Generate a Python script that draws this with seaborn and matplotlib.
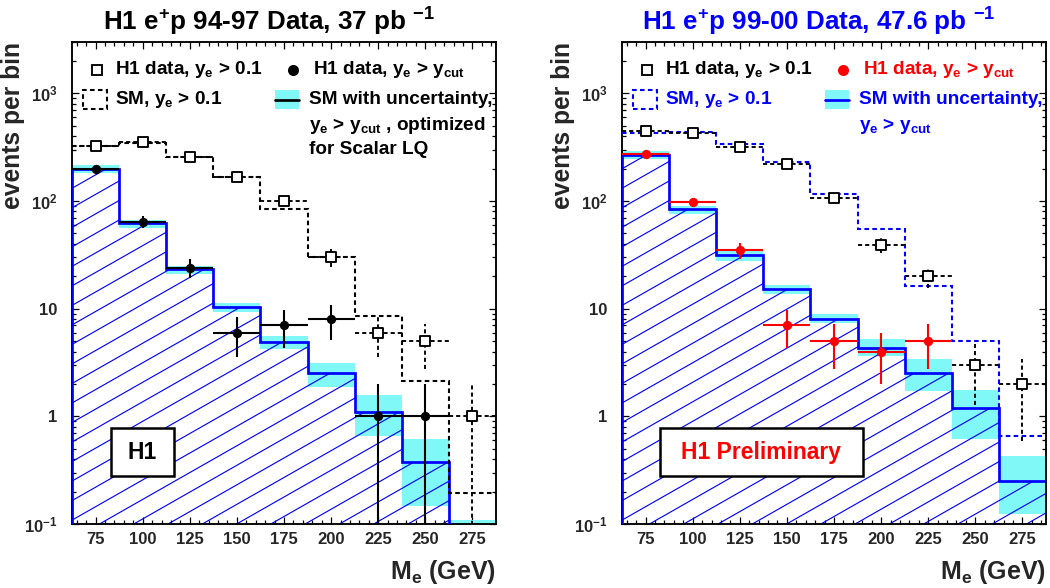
import numpy as np
import matplotlib
matplotlib.use("Agg")
import matplotlib.pyplot as plt
import seaborn as sns
from matplotlib.patches import Rectangle
from matplotlib.ticker import MultipleLocator, LogLocator, FuncFormatter, NullFormatter

# bins in electron-quark mass (GeV)
bin_centres = [75, 100, 125, 150, 175, 200, 225, 250, 275]
bin_edges = [62.5, 87.5, 112.5, 137.5, 162.5, 187.5, 212.5, 237.5, 262.5, 287.5]

# 94-97 data (left)
left_open = [325, 350, 255, 168, 99, 30, 6, 5, 1]
left_sm01 = [326, 345, 257, 168, 84, 30.3, 8.6, 2.13, 0.195]
left_cut = [198, 64, 24, 6, 7, 8, 1, 1]
left_sm = [198, 62, 23.5, 10.4, 4.9, 2.5, 1.1, 0.38, 0.08]
left_sm_lo = [183, 55.6, 21, 9.4, 4.2, 1.86, 0.66, 0.148, 0.05]
left_sm_hi = [214, 66.7, 25, 11.3, 5.6, 3.15, 1.58, 0.61, 0.11]

# 99-00 data (right)
right_open = [450, 430, 318, 219, 107, 39, 20, 3, 2]
right_sm01 = [433, 435, 335, 228, 116, 55, 16.3, 5.0, 0.66]
right_cut = [272, 97, 35, 7, 5, 4, 5]
right_sm = [267, 84, 31.5, 15.1, 8.1, 4.3, 2.5, 1.19, 0.25]
right_sm_lo = [245, 75, 28, 13.8, 7.3, 3.6, 1.73, 0.61, 0.124]
right_sm_hi = [292, 90, 34, 16.5, 8.9, 5.2, 3.4, 1.75, 0.43]

sns.set_theme(style="ticks")
plt.rcParams["font.family"] = ["Liberation Sans", "DejaVu Sans"]
plt.rcParams["font.weight"] = "bold"
plt.rcParams["mathtext.fontset"] = "custom"
plt.rcParams["mathtext.rm"] = "Liberation Sans:bold"
plt.rcParams["mathtext.it"] = "Liberation Sans:bold"
plt.rcParams["mathtext.bf"] = "Liberation Sans:bold"
plt.rcParams["mathtext.default"] = "rm"

CYAN = "#80f8f8"
half = 12.5

fig = plt.figure(figsize=(7, 3.92), dpi=150)
ax1 = fig.add_axes([72 / 1050, 64 / 588, 424 / 1050, 482 / 588])
ax2 = fig.add_axes([622 / 1050, 64 / 588, 424 / 1050, 482 / 588])


def yfmt(v, pos):
    labels = {0.1: "10$^{-1}$", 1: "1", 10: "10", 100: "10$^{2}$", 1000: "10$^{3}$"}
    for k, s in labels.items():
        if abs(v - k) < 1e-6 * k:
            return s
    return ""


def draw_panel(ax, open_vals, sm01, cut_vals, sm, sm_lo, sm_hi, sm01_col, cut_col):
    ax.set_yscale("log")
    ax.set_xlim(62.5, 287.5)
    ax.set_ylim(0.1, 3000)

    # SM band and outline
    ax.stairs(sm_hi, bin_edges, baseline=sm_lo, fill=True, color=CYAN, lw=0, zorder=1)
    clip = ax.stairs(sm, bin_edges, baseline=1e-3, fill=True, facecolor="none",
                     edgecolor="none", lw=0, zorder=0)
    # diagonal hatching of the SM histogram
    for c in np.arange(-0.55, 1.05, 0.0405) + 0.0315:
        ln, = ax.plot([0, 1], [c, c + 0.501], transform=ax.transAxes,
                      color="blue", lw=0.55, zorder=2)
        ln.set_clip_path(clip)
    ax.stairs(sm, bin_edges, baseline=1e-3, color="blue", lw=1.3, zorder=3)

    # SM y_e > 0.1
    ax.stairs(sm01, bin_edges, baseline=None, color=sm01_col, lw=1.0,
              linestyle=(0, (2.2, 1.6)), zorder=4)

    # open squares, y_e > 0.1
    eb = ax.errorbar(bin_centres, open_vals, xerr=half, yerr=np.sqrt(open_vals),
                     fmt="none", ecolor="black", elinewidth=0.9, zorder=5)
    for col in eb[2]:
        col.set_linestyle((0, (2.2, 1.6)))
    sns.scatterplot(x=bin_centres, y=open_vals, ax=ax, marker="s", s=24,
                    facecolor="white", edgecolor="black", linewidth=0.9, zorder=6)

    # filled points, y_e > y_cut
    xs = bin_centres[:len(cut_vals)]
    ax.errorbar(xs, cut_vals, xerr=half, yerr=np.sqrt(cut_vals), fmt="none",
                ecolor=cut_col, elinewidth=1.0, zorder=7)
    sns.scatterplot(x=xs, y=cut_vals, ax=ax, marker="o", s=20, color=cut_col,
                    edgecolor=cut_col, linewidth=0, zorder=8)

    ax.xaxis.set_major_locator(MultipleLocator(25))
    ax.xaxis.set_minor_locator(MultipleLocator(5))
    ax.yaxis.set_major_locator(LogLocator(base=10))
    ax.yaxis.set_minor_locator(LogLocator(base=10, subs=np.arange(2, 10)))
    ax.yaxis.set_major_formatter(FuncFormatter(yfmt))
    ax.yaxis.set_minor_formatter(NullFormatter())
    ax.tick_params(which="both", direction="in", top=True, right=True, width=0.6,
                   labelsize=8, color="black")
    ax.tick_params(which="major", length=3.4)
    ax.tick_params(which="minor", length=1.9)
    ax.tick_params(axis="x", pad=4)
    ax.tick_params(axis="y", pad=7)
    for t in ax.get_xticklabels() + ax.get_yticklabels():
        t.set_fontweight("bold")
    for sp in ax.spines.values():
        sp.set_linewidth(0.9)
        sp.set_color("black")
    ax.set_ylabel("events per bin", fontsize=11.8, fontweight="bold", loc="top")
    ax.yaxis.set_label_coords(-0.112, 1.0)
    ax.set_xlabel("M$_{e}$ (GeV)", fontsize=12, fontweight="bold", loc="right", labelpad=5)


draw_panel(ax1, left_open, left_sm01, left_cut, left_sm, left_sm_lo, left_sm_hi,
           "black", "black")
draw_panel(ax2, right_open, right_sm01, right_cut, right_sm, right_sm_lo, right_sm_hi,
           "blue", "red")


def legend(ax, sm01_col, cut_col, band_line, text_col, extra):
    tk = dict(transform=ax.transAxes, fontsize=9.1, fontweight="bold", va="center", zorder=10)
    ax.plot([0.059], [0.942], transform=ax.transAxes, marker="s", ms=5, mfc="white",
            mec="black", mew=0.9, ls="none", zorder=10)
    ax.text(0.101, 0.942, "H1 data, y$_{e}$ > 0.1", color="black", **tk)
    ax.plot([0.521], [0.942], transform=ax.transAxes, marker="o", ms=4.3, color=cut_col,
            ls="none", zorder=10)
    ax.text(0.568, 0.942, "H1 data, y$_{e}$ > y$_{cut}$", color=cut_col, **tk)
    ax.add_patch(Rectangle((0.026, 0.861), 0.057, 0.039, transform=ax.transAxes,
                           facecolor="white", edgecolor=sm01_col, lw=1.0,
                           linestyle=(0, (2.2, 1.6)), zorder=10))
    ax.text(0.101, 0.88, "SM, y$_{e}$ > 0.1", color=text_col, **tk)
    ax.add_patch(Rectangle((0.479, 0.861), 0.056, 0.039, transform=ax.transAxes,
                           facecolor=CYAN, edgecolor="none", zorder=10))
    ax.plot([0.479, 0.535], [0.8805, 0.8805], transform=ax.transAxes, color=band_line,
            lw=1.3, zorder=11)
    ax.text(0.559, 0.88, "SM with uncertainty,", color=text_col, **tk)
    for i, line in enumerate(extra):
        ax.text(0.559, 0.826 - i * 0.048, line, color=text_col, **tk)


legend(ax1, "black", "black", "black", "black",
       ["y$_{e}$ > y$_{cut}$ , optimized", "for Scalar LQ"])
legend(ax2, "blue", "red", "blue", "blue", ["y$_{e}$ > y$_{cut}$"])

# labels in boxes
ax1.add_patch(Rectangle((0.092, 0.0996), 0.149, 0.0994, transform=ax1.transAxes,
                        facecolor="white", edgecolor="black", lw=1.2, zorder=10))
ax1.text(0.1665, 0.149, "H1", transform=ax1.transAxes, ha="center", va="center",
         fontsize=11, fontweight="bold", color="black", zorder=11)
ax2.add_patch(Rectangle((0.0896, 0.0996), 0.478, 0.0994, transform=ax2.transAxes,
                        facecolor="white", edgecolor="black", lw=1.2, zorder=10))
ax2.text(0.3285, 0.149, "H1 Preliminary", transform=ax2.transAxes, ha="center",
         va="center", fontsize=11, fontweight="bold", color="red", zorder=11)

# titles
fig.text(269 / 1050, 1 - 22 / 588, "H1 e$^{+}$p 94-97 Data, 37 pb $^{-1}$", ha="center",
         va="center", fontsize=12.5, fontweight="bold", color="black")
fig.text(819 / 1050, 1 - 22 / 588, "H1 e$^{+}$p 99-00 Data, 47.6 pb $^{-1}$", ha="center",
         va="center", fontsize=12.5, fontweight="bold", color="blue")

fig.savefig("out.png", dpi=150, facecolor="white")
